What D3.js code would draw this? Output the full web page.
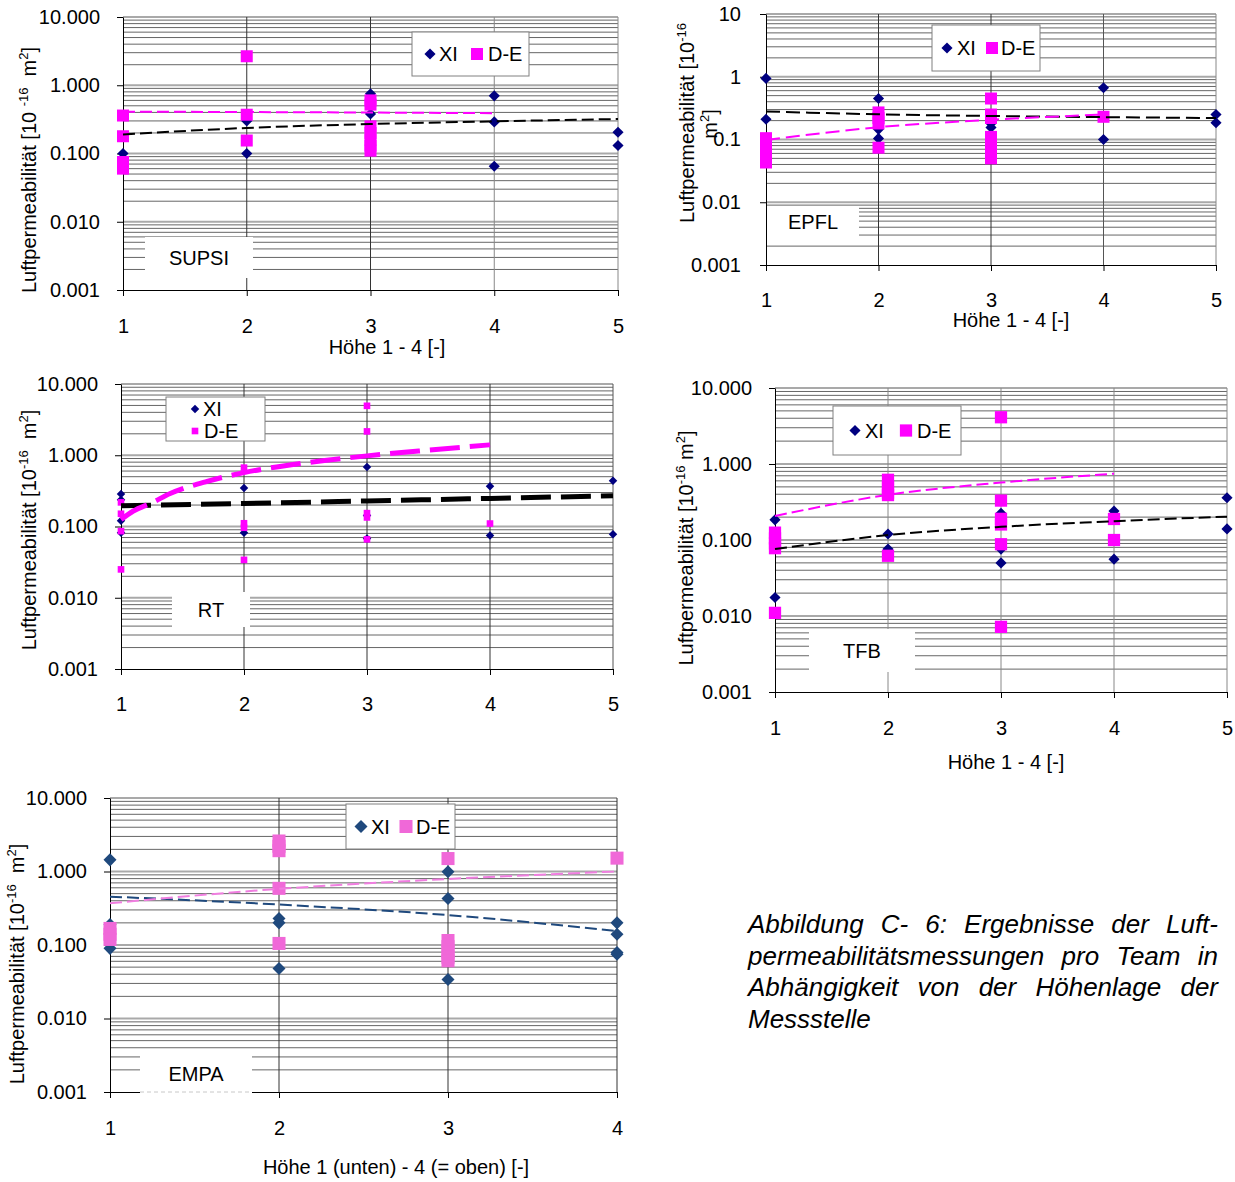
<!DOCTYPE html>
<html>
<head>
<meta charset="utf-8">
<script src="https://cdn.jsdelivr.net/npm/d3@7"></script>
<style>
  body { margin: 0; background: #fff; }
  svg { display: block; }
  text { font-family: 'Liberation Sans', Arial, sans-serif; fill: #000; }
</style>
</head>
<body>
<svg id="fig" width="1235" height="1182"></svg>
<script>
// ---- values: [Höhe, Luftpermeabilität] ----
const yTickValues = [0.001, 0.01, 0.1, 1, 10];

const supsiXI = [[1,0.10],[2,0.10],[2,0.30],[3,0.75],[3,0.38],[4,0.70],[4,0.29],[4,0.065],[5,0.205],[5,0.131]];
const supsiDE = [[1,0.36],[1,0.179],[1,0.075],[1,0.060],[2,2.66],[2,0.37],[2,0.155],[3,0.60],[3,0.52],
                 [3,0.25],[3,0.20],[3,0.16],[3,0.13],[3,0.11]];
const supsiTrendXI = [[1,0.19],[2,0.237],[3,0.27],[4,0.296],[5,0.32]];
const supsiTrendDE = [[1,0.41],[2,0.405],[3,0.398],[4,0.39]];

const epflXI = [[1,0.94],[1,0.21],[2,0.45],[2,0.145],[2,0.104],[3,0.18],[3,0.155],[4,0.667],[4,0.10],[5,0.25],[5,0.185]];
const epflDE = [[1,0.105],[1,0.085],[1,0.068],[1,0.054],[1,0.043],[2,0.27],[2,0.22],[2,0.18],[2,0.074],
                [3,0.45],[3,0.25],[3,0.22],[3,0.11],[3,0.09],[3,0.07],[3,0.05],[4,0.23]];
const epflTrendXI = [[1,0.28],[2,0.252],[3,0.237],[4,0.227],[5,0.22]];
const epflTrendDE = [[1,0.098],[2,0.157],[3,0.206],[4,0.25]];

const rtXI = [[1,0.286],[1,0.238],[1,0.12],[1,0.082],[2,0.348],[2,0.082],[3,0.684],[3,0.143],[3,0.068],
              [4,0.367],[4,0.075],[5,0.44],[5,0.078]];
const rtDE = [[1,0.218],[1,0.151],[1,0.086],[1,0.025],[2,0.67],[2,0.111],[2,0.096],[2,0.034],
              [3,4.94],[3,2.16],[3,0.154],[3,0.134],[3,0.066],[4,0.11]];
const rtTrendXI = [[1,0.195],[2,0.21],[3,0.228],[4,0.248],[5,0.27]];
const rtTrendDE = [[1,0.125],[1.1,0.165],[1.25,0.215],[1.4,0.29],[1.7,0.43],[2,0.57],[2.5,0.78],[3,0.98],[3.5,1.18],[4,1.4]];

const tfbXI = [[1,0.184],[1,0.0175],[2,0.12],[2,0.076],[3,0.225],[3,0.076],[3,0.05],[4,0.24],[4,0.056],[5,0.36],[5,0.14]];
const tfbDE = [[1,0.125],[1,0.105],[1,0.09],[1,0.078],[1,0.011],[2,0.62],[2,0.5],[2,0.42],[2,0.39],[2,0.062],
               [3,4.12],[3,0.33],[3,0.19],[3,0.16],[3,0.088],[3,0.0072],[4,0.189],[4,0.10]];
const tfbTrendXI = [[1,0.076],[2,0.116],[3,0.149],[4,0.177],[5,0.203]];
const tfbTrendDE = [[1,0.207],[2,0.393],[3,0.57],[4,0.746]];

const empaXI = [[1,1.44],[1,0.19],[1,0.09],[2,0.23],[2,0.20],[2,0.048],[3,0.99],[3,0.43],[3,0.034],
                [4,0.20],[4,0.14],[4,0.079],[4,0.075]];
const empaDE = [[1,0.168],[1,0.14],[1,0.119],[2,2.6],[2,2.2],[2,1.92],[2,0.59],[2,0.105],
                [3,1.5],[3,0.115],[3,0.095],[3,0.08],[3,0.068],[3,0.061],[4,1.52]];
const empaTrendXI = [[1,0.455],[2,0.355],[3,0.255],[4,0.155]];
const empaTrendDE = [[1,0.37],[2,0.58],[3,0.79],[4,1.0]];

const captionLines = ["Abbildung C- 6: Ergebnisse der Luft-",
                      "permeabilitätsmessungen pro Team in",
                      "Abhängigkeit von der Höhenlage der",
                      "Messstelle"];

const fmt3 = d3.format(".3f");
const fmtG = d => d >= 1 ? String(d) : String(+d.toPrecision(1));

const NAVY = "#000080", MAG = "#ff00ff";

const panels = [
  { name: "SUPSI", xi: supsiXI, de: supsiDE, trXI: supsiTrendXI, trDE: supsiTrendDE, xMax: 5,
    l: 123, r: 618, t: 17, b: 290, fmt: fmt3, pad: 17, xPad: 23,
    colXI: NAVY, colDE: MAG, trColXI: "#000", trColDE: MAG, trW: 2, dash: "12,5",
    dSize: 62, sSize: 144, vcol: ["#333", "#333", "#888", "#888"],
    legend: { x: 412, y: 32, w: 117, h: 44, rows: false, ix: [18, 27, 65, 76] },
    tag: { x: 145, y: 237, w: 108, h: 41 },
    title: { x: 36, y: 170, parts: ["Luftpermeabilität [10 ", "-16", "  m", "2", "]"] },
    xTitle: { text: "Höhe 1 - 4 [-]", x: 387, y: 354 } },
  { name: "EPFL", xi: epflXI, de: epflDE, trXI: epflTrendXI, trDE: epflTrendDE, xMax: 5,
    l: 766, r: 1216, t: 14, b: 265, fmt: fmtG, pad: 19, xPad: 22,
    colXI: NAVY, colDE: MAG, trColXI: "#000", trColDE: MAG, trW: 2, dash: "14,6",
    dSize: 62, sSize: 144, vcol: ["#333", "#333", "#555", "#888"],
    legend: { x: 932, y: 25, w: 108, h: 46, rows: false, ix: [15, 25, 60, 69] },
    tag: { x: 767, y: 207, w: 92, h: 29 },
    title2: true,
    xTitle: { text: "Höhe 1 - 4 [-]", x: 1011, y: 327 } },
  { name: "RT", xi: rtXI, de: rtDE, trXI: rtTrendXI, trDE: rtTrendDE, xMax: 5,
    l: 121, r: 613, t: 384, b: 669, fmt: fmt3, pad: 17, xPad: 22,
    colXI: NAVY, colDE: MAG, trColXI: "#000", trColDE: MAG, trW: 5, dash: "30,10",
    dSize: 36, sSize: 44, vcol: ["#333", "#333", "#333", "#555"],
    legend: { x: 166, y: 397, w: 99, h: 44, rows: true },
    tag: { x: 172, y: 592, w: 78, h: 35 },
    title: { x: 36, y: 530, parts: ["Luftpermeabilität [10", "-16", "  m", "2", "]"] },
    xTitle: null },
  { name: "TFB", xi: tfbXI, de: tfbDE, trXI: tfbTrendXI, trDE: tfbTrendDE, xMax: 5,
    l: 775, r: 1227, t: 388, b: 692, fmt: fmt3, pad: 17, xPad: 23,
    colXI: NAVY, colDE: MAG, trColXI: "#000", trColDE: MAG, trW: 2, dash: "12,5",
    dSize: 62, sSize: 150, vcol: ["#888", "#888", "#888", "#888"],
    legend: { x: 833, y: 406, w: 128, h: 49, rows: false, ix: [22, 32, 73, 84] },
    tag: { x: 809, y: 629, w: 106, h: 43 },
    title: { x: 693, y: 548, parts: ["Luftpermeabilität [10", "-16", " m", "2", "]"] },
    xTitle: { text: "Höhe 1 - 4 [-]", x: 1006, y: 769 } },
  { name: "EMPA", xi: empaXI, de: empaDE, trXI: empaTrendXI, trDE: empaTrendDE, xMax: 4,
    l: 110, r: 617, t: 798, b: 1092, fmt: fmt3, pad: 17, xPad: 23,
    colXI: "#1f497d", colDE: "#f068d8", trColXI: "#1f497d", trColDE: "#f07ee0", trW: 2, dash: "12,5",
    dSize: 85, sSize: 170, vcol: ["#333", "#333", "#333"],
    legend: { x: 346, y: 804, w: 109, h: 45, rows: false, ix: [15, 25, 60, 70] },
    tag: { x: 140, y: 1055, w: 112, h: 38, coverAxis: true },
    title: { x: 24, y: 964, parts: ["Luftpermeabilität [10", "-16", "  m", "2", "]"] },
    xTitle: { text: "Höhe 1 (unten) - 4 (= oben) [-]", x: 396, y: 1174 } }
];

const svg = d3.select("#fig");
svg.append("rect").attr("width", 1235).attr("height", 1182).attr("fill", "#fff");

const isDecade = d => Math.abs(Math.log10(d) - Math.round(Math.log10(d))) < 1e-9;

function writeTitle(g, x, y, parts) {
  const t = g.append("text")
    .attr("transform", `translate(${x},${y}) rotate(-90)`)
    .attr("text-anchor", "middle")
    .style("white-space", "pre")
    .attr("font-size", 20);
  parts.forEach((s, i) => {
    const sup = i % 2 === 1;
    t.append("tspan")
      .attr("font-size", sup ? 13 : 20)
      .attr("dy", i === 0 ? 0 : (sup ? -8 : 8))
      .text(s);
  });
}

function drawPanel(p) {
  const g = svg.append("g");
  const x = d3.scaleLinear().domain([1, p.xMax]).range([p.l, p.r]);
  const y = d3.scaleLog().domain([0.001, 10]).range([p.b, p.t]);
  const xTicks = d3.range(1, p.xMax + 1);

  // horizontal grid (every log step)
  g.append("g").selectAll("line")
    .data(y.ticks().filter(d => d > 0.001))
    .join("line")
      .attr("x1", p.l).attr("x2", p.r)
      .attr("y1", d => y(d)).attr("y2", d => y(d))
      .attr("stroke", d => isDecade(d) ? "#a9a9a9" : "#666")
      .attr("stroke-width", d => isDecade(d) ? 2 : 1);

  // vertical grid
  g.append("g").selectAll("line")
    .data(xTicks.slice(1))
    .join("line")
      .attr("x1", d => x(d)).attr("x2", d => x(d))
      .attr("y1", p.t).attr("y2", p.b)
      .attr("stroke", (d, i) => p.vcol[i])
      .attr("stroke-width", 1);

  // axes
  const yAxis = d3.axisLeft(y).tickValues(yTickValues).tickFormat(p.fmt)
    .tickSize(6).tickSizeOuter(0).tickPadding(p.pad);
  const ya = g.append("g").attr("transform", `translate(${p.l},0)`).call(yAxis);
  const xAxis = d3.axisBottom(x).tickValues(xTicks).tickFormat(d3.format("d"))
    .tickSize(6).tickSizeOuter(0).tickPadding(p.xPad);
  const xa = g.append("g").attr("transform", `translate(0,${p.b})`).call(xAxis);
  [ya, xa].forEach(a => {
    a.selectAll("text").attr("font-size", 20).attr("font-family", "'Liberation Sans', Arial, sans-serif").attr("fill", "#000");
    a.selectAll("line").attr("stroke", "#000");
    a.select(".domain").attr("stroke", "#000");
  });

  // markers
  const diamond = d3.symbol(d3.symbolSquare, p.dSize);
  const square = d3.symbol(d3.symbolSquare, p.sSize);
  g.append("g").selectAll("path")
    .data(p.xi).join("path")
      .attr("d", diamond)
      .attr("transform", d => `translate(${x(d[0])},${y(d[1])}) rotate(45)`)
      .attr("fill", p.colXI);
  g.append("g").selectAll("path")
    .data(p.de).join("path")
      .attr("d", square)
      .attr("transform", d => `translate(${x(d[0])},${y(d[1])})`)
      .attr("fill", p.colDE);

  // trend lines
  const line = d3.line().x(d => x(d[0])).y(d => y(d[1])).curve(d3.curveMonotoneX);
  [[p.trXI, p.trColXI], [p.trDE, p.trColDE]].forEach(([data, col]) => {
    g.append("path").datum(data)
      .attr("d", line)
      .attr("fill", "none")
      .attr("stroke", col)
      .attr("stroke-width", p.trW)
      .attr("stroke-dasharray", p.dash);
  });

  // team tag box
  const tg = p.tag;
  g.append("rect").attr("x", tg.x).attr("y", tg.y).attr("width", tg.w)
    .attr("height", tg.coverAxis ? tg.h + 2 : tg.h).attr("fill", "#fff");
  if (tg.coverAxis) {
    g.append("line").attr("x1", tg.x).attr("x2", tg.x + tg.w)
      .attr("y1", p.b).attr("y2", p.b)
      .attr("stroke", "#c8c8c8").attr("stroke-dasharray", "4,3");
  }
  g.append("text").attr("x", tg.x + tg.w / 2).attr("y", tg.y + tg.h / 2 + 7)
    .attr("text-anchor", "middle").attr("font-size", 20).text(p.name);

  // legend
  const lg = p.legend;
  const L = g.append("g").attr("transform", `translate(${lg.x},${lg.y})`);
  L.append("rect").attr("width", lg.w).attr("height", lg.h)
    .attr("fill", "#fff").attr("stroke", "#808080").attr("stroke-width", 1);
  if (lg.rows) {
    L.append("path").attr("d", diamond).attr("fill", p.colXI)
      .attr("transform", "translate(29,12) rotate(45)");
    L.append("text").attr("x", 37).attr("y", 19).attr("font-size", 20).text("XI");
    L.append("path").attr("d", square).attr("fill", p.colDE)
      .attr("transform", "translate(29,34)");
    L.append("text").attr("x", 38).attr("y", 41).attr("font-size", 20).text("D-E");
  } else {
    const cy = lg.h / 2;
    L.append("path").attr("d", diamond).attr("fill", p.colXI)
      .attr("transform", `translate(${lg.ix[0]},${cy}) rotate(45)`);
    L.append("text").attr("x", lg.ix[1]).attr("y", cy + 7).attr("font-size", 20).text("XI");
    L.append("path").attr("d", square).attr("fill", p.colDE)
      .attr("transform", `translate(${lg.ix[2]},${cy})`);
    L.append("text").attr("x", lg.ix[3]).attr("y", cy + 7).attr("font-size", 20).text("D-E");
  }

  // titles
  if (p.title) writeTitle(g, p.title.x, p.title.y, p.title.parts);
  if (p.title2) {
    writeTitle(g, 694, 123, ["Luftpermeabilität [10", "-16"]);
    writeTitle(g, 717, 124, ["m", "2", "]"]);
  }
  if (p.xTitle) {
    g.append("text").attr("x", p.xTitle.x).attr("y", p.xTitle.y)
      .attr("text-anchor", "middle").attr("font-size", 20).text(p.xTitle.text);
  }
}

panels.forEach(drawPanel);

// caption, justified between x0 and x1
const capX0 = 748, capX1 = 1218, capY0 = 933, capLH = 31.5;
const cap = svg.append("g").attr("font-size", 26).attr("font-style", "italic");
captionLines.forEach((ln, li) => {
  const words = ln.split(" ");
  const nodes = words.map(w => cap.append("text").attr("y", capY0 + li * capLH).text(w));
  const widths = nodes.map(n => n.node().getComputedTextLength());
  const last = li === captionLines.length - 1;
  const gap = last ? 7.2 : (capX1 - capX0 - d3.sum(widths)) / (words.length - 1);
  let cx = capX0;
  nodes.forEach((n, i) => { n.attr("x", cx); cx += widths[i] + gap; });
});
</script>
</body>
</html>
